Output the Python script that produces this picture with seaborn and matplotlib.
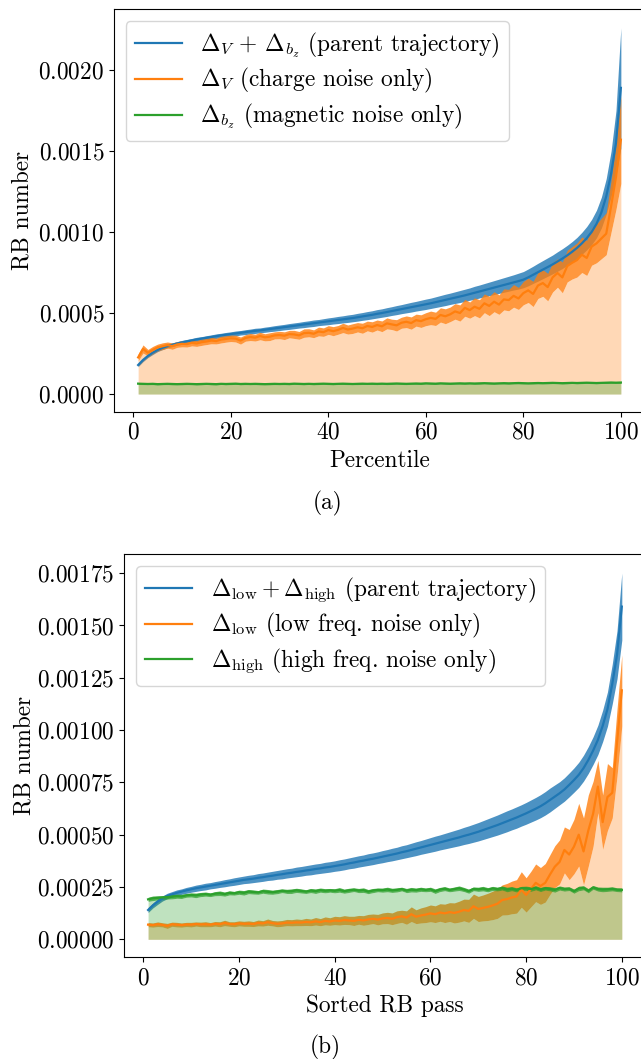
import numpy as np
import matplotlib
matplotlib.use("Agg")
import matplotlib.pyplot as plt
import seaborn as sns

# ---------------- data (values in units of 1e-4) ----------------
SCALE = 1e-4
x_vals = list(range(1, 101))

# Panel (a)
a_parent_mean = [
    1.79, 2.10, 2.35, 2.55, 2.72, 2.85, 2.95, 3.04, 3.12, 3.19,
    3.25, 3.31, 3.37, 3.42, 3.47, 3.52, 3.57, 3.62, 3.66, 3.70,
    3.74, 3.78, 3.82, 3.86, 3.90, 3.93, 3.97, 4.01, 4.05, 4.09,
    4.13, 4.17, 4.21, 4.25, 4.29, 4.33, 4.37, 4.41, 4.45, 4.49,
    4.53, 4.57, 4.61, 4.65, 4.69, 4.74, 4.79, 4.84, 4.89, 4.95,
    5.00, 5.06, 5.12, 5.18, 5.24, 5.30, 5.36, 5.42, 5.48, 5.54,
    5.60, 5.67, 5.74, 5.81, 5.88, 5.95, 6.02, 6.09, 6.17, 6.25,
    6.33, 6.41, 6.49, 6.57, 6.65, 6.73, 6.81, 6.89, 6.97, 7.06,
    7.20, 7.36, 7.52, 7.68, 7.84, 8.00, 8.18, 8.36, 8.56, 8.78,
    9.02, 9.30, 9.62, 10.0, 10.5, 11.2, 12.2, 13.6, 15.5, 18.9]
a_parent_hw = [
    0.10, 0.10, 0.10, 0.11, 0.10, 0.11, 0.10, 0.11, 0.11, 0.12,
    0.12, 0.12, 0.13, 0.12, 0.13, 0.13, 0.14, 0.13, 0.14, 0.14,
    0.15, 0.14, 0.15, 0.15, 0.16, 0.15, 0.16, 0.16, 0.17, 0.17,
    0.17, 0.18, 0.18, 0.18, 0.19, 0.19, 0.20, 0.19, 0.20, 0.21,
    0.21, 0.22, 0.22, 0.23, 0.23, 0.24, 0.24, 0.25, 0.25, 0.26,
    0.26, 0.27, 0.27, 0.28, 0.28, 0.29, 0.30, 0.30, 0.31, 0.32,
    0.32, 0.33, 0.34, 0.35, 0.35, 0.36, 0.37, 0.38, 0.38, 0.40,
    0.40, 0.41, 0.42, 0.43, 0.44, 0.45, 0.46, 0.47, 0.49, 0.50,
    0.52, 0.53, 0.55, 0.56, 0.57, 0.58, 0.60, 0.61, 0.62, 0.63,
    0.65, 0.68, 0.72, 0.78, 0.85, 0.95, 1.10, 1.40, 2.00, 3.70]
a_charge_mean = [
    2.26, 2.78, 2.55, 2.72, 2.88, 2.95, 3.02, 2.96, 3.06, 3.10,
    3.08, 3.16, 3.12, 3.20, 3.24, 3.30, 3.27, 3.36, 3.40, 3.44,
    3.42, 3.30, 3.46, 3.52, 3.48, 3.58, 3.50, 3.54, 3.62, 3.64,
    3.60, 3.70, 3.68, 3.62, 3.76, 3.78, 3.72, 3.86, 3.82, 3.95,
    3.88, 3.96, 4.08, 3.98, 4.04, 4.12, 4.06, 4.20, 4.14, 4.26,
    4.18, 4.36, 4.30, 4.24, 4.40, 4.46, 4.38, 4.56, 4.50, 4.62,
    4.70, 4.64, 4.88, 4.80, 4.92, 5.10, 5.00, 5.32, 5.18, 5.39,
    5.26, 5.60, 5.44, 5.70, 5.52, 5.84, 5.80, 6.06, 5.90, 6.23,
    6.40, 6.18, 6.70, 6.85, 6.60, 7.20, 7.47, 7.20, 7.90, 8.10,
    8.27, 8.60, 8.40, 9.10, 9.30, 9.60, 9.90, 11.6, 13.4, 15.7]
a_charge_hw = [
    0.22, 0.25, 0.20, 0.22, 0.20, 0.21, 0.19, 0.20, 0.18, 0.19,
    0.18, 0.19, 0.18, 0.20, 0.19, 0.20, 0.18, 0.21, 0.20, 0.20,
    0.21, 0.22, 0.20, 0.22, 0.21, 0.23, 0.22, 0.24, 0.22, 0.23,
    0.24, 0.23, 0.25, 0.24, 0.26, 0.25, 0.24, 0.27, 0.26, 0.27,
    0.28, 0.27, 0.29, 0.28, 0.30, 0.29, 0.31, 0.30, 0.32, 0.31,
    0.33, 0.34, 0.32, 0.35, 0.34, 0.36, 0.38, 0.37, 0.39, 0.40,
    0.42, 0.41, 0.44, 0.46, 0.45, 0.48, 0.50, 0.52, 0.50, 0.55,
    0.56, 0.58, 0.60, 0.62, 0.60, 0.65, 0.66, 0.70, 0.68, 0.72,
    0.75, 0.78, 0.80, 0.82, 0.85, 0.90, 0.88, 0.95, 0.98, 1.00,
    1.05, 1.10, 1.08, 1.15, 1.20, 1.25, 1.30, 1.60, 2.00, 2.70]
a_magnetic_mean = [
    0.64, 0.63, 0.62, 0.63, 0.61, 0.62, 0.63, 0.62, 0.61, 0.62,
    0.63, 0.62, 0.61, 0.62, 0.63, 0.62, 0.61, 0.63, 0.62, 0.63,
    0.64, 0.62, 0.63, 0.62, 0.63, 0.62, 0.61, 0.62, 0.63, 0.62,
    0.63, 0.62, 0.64, 0.63, 0.62, 0.63, 0.62, 0.63, 0.64, 0.63,
    0.62, 0.63, 0.64, 0.63, 0.62, 0.63, 0.64, 0.63, 0.64, 0.63,
    0.64, 0.63, 0.64, 0.65, 0.64, 0.63, 0.64, 0.65, 0.64, 0.66,
    0.65, 0.64, 0.66, 0.65, 0.64, 0.65, 0.66, 0.65, 0.66, 0.65,
    0.66, 0.67, 0.66, 0.65, 0.66, 0.67, 0.66, 0.67, 0.68, 0.67,
    0.66, 0.67, 0.68, 0.67, 0.68, 0.69, 0.68, 0.67, 0.68, 0.69,
    0.68, 0.69, 0.70, 0.69, 0.68, 0.69, 0.70, 0.71, 0.70, 0.71]
a_magnetic_hw = [
    0.05, 0.05, 0.04, 0.05, 0.05, 0.04, 0.05, 0.05, 0.04, 0.05,
    0.05, 0.04, 0.05, 0.05, 0.04, 0.05, 0.05, 0.04, 0.05, 0.05,
    0.04, 0.05, 0.05, 0.04, 0.05, 0.05, 0.04, 0.05, 0.05, 0.04,
    0.05, 0.05, 0.04, 0.05, 0.05, 0.04, 0.05, 0.05, 0.04, 0.05,
    0.05, 0.04, 0.05, 0.05, 0.04, 0.05, 0.05, 0.04, 0.05, 0.05,
    0.04, 0.05, 0.05, 0.04, 0.05, 0.05, 0.04, 0.05, 0.05, 0.04,
    0.05, 0.05, 0.04, 0.05, 0.05, 0.04, 0.05, 0.05, 0.04, 0.05,
    0.05, 0.04, 0.05, 0.05, 0.04, 0.05, 0.05, 0.04, 0.05, 0.05,
    0.04, 0.05, 0.05, 0.04, 0.05, 0.05, 0.04, 0.05, 0.05, 0.04,
    0.05, 0.05, 0.04, 0.05, 0.05, 0.04, 0.05, 0.05, 0.04, 0.05]

# Panel (b)
b_parent_mean = [
    1.40, 1.62, 1.80, 1.95, 2.07, 2.15, 2.22, 2.28, 2.34, 2.39,
    2.44, 2.48, 2.52, 2.56, 2.60, 2.64, 2.68, 2.72, 2.76, 2.80,
    2.84, 2.87, 2.90, 2.94, 2.97, 3.01, 3.04, 3.08, 3.11, 3.15,
    3.18, 3.22, 3.25, 3.29, 3.32, 3.36, 3.39, 3.43, 3.46, 3.50,
    3.54, 3.58, 3.63, 3.67, 3.72, 3.76, 3.81, 3.85, 3.90, 3.95,
    4.00, 4.05, 4.10, 4.16, 4.21, 4.27, 4.33, 4.39, 4.45, 4.51,
    4.57, 4.63, 4.69, 4.75, 4.81, 4.87, 4.94, 5.00, 5.07, 5.14,
    5.22, 5.30, 5.38, 5.46, 5.55, 5.64, 5.73, 5.82, 5.92, 6.02,
    6.13, 6.24, 6.36, 6.50, 6.66, 6.82, 6.98, 7.16, 7.38, 7.61,
    7.86, 8.18, 8.57, 9.02, 9.53, 10.2, 11.0, 12.2, 13.6, 15.9]
b_parent_hw = [
    0.12, 0.12, 0.13, 0.12, 0.13, 0.13, 0.14, 0.13, 0.14, 0.14,
    0.15, 0.15, 0.16, 0.15, 0.16, 0.16, 0.17, 0.17, 0.18, 0.18,
    0.18, 0.19, 0.19, 0.20, 0.20, 0.20, 0.21, 0.21, 0.22, 0.22,
    0.22, 0.23, 0.23, 0.23, 0.24, 0.24, 0.24, 0.25, 0.25, 0.25,
    0.26, 0.26, 0.26, 0.27, 0.27, 0.27, 0.28, 0.28, 0.28, 0.29,
    0.29, 0.30, 0.30, 0.31, 0.31, 0.32, 0.33, 0.33, 0.34, 0.35,
    0.36, 0.36, 0.37, 0.38, 0.39, 0.40, 0.41, 0.42, 0.43, 0.44,
    0.45, 0.46, 0.47, 0.48, 0.49, 0.50, 0.50, 0.51, 0.51, 0.52,
    0.53, 0.54, 0.55, 0.56, 0.57, 0.56, 0.55, 0.56, 0.57, 0.58,
    0.60, 0.62, 0.64, 0.66, 0.70, 0.75, 0.82, 0.95, 1.15, 1.60]
b_low_mean = [
    0.70, 0.68, 0.72, 0.69, 0.64, 0.72, 0.70, 0.68, 0.71, 0.70,
    0.73, 0.71, 0.72, 0.70, 0.74, 0.72, 0.78, 0.73, 0.72, 0.76,
    0.74, 0.75, 0.73, 0.78, 0.76, 0.82, 0.77, 0.74, 0.76, 0.80,
    0.79, 0.81, 0.80, 0.83, 0.81, 0.86, 0.82, 0.88, 0.85, 0.90,
    0.88, 0.92, 0.90, 0.88, 0.93, 0.90, 0.95, 0.98, 0.94, 1.00,
    1.02, 0.98, 1.06, 1.10, 1.04, 1.20, 1.08, 1.14, 1.18, 1.24,
    1.20, 1.28, 1.24, 1.30, 1.26, 1.32, 1.40, 1.36, 1.58, 1.45,
    1.50, 1.55, 1.62, 1.70, 1.88, 1.92, 2.00, 2.05, 2.38, 2.12,
    2.40, 2.70, 2.55, 2.70, 3.10, 3.47, 3.70, 4.27, 4.05, 4.43,
    5.00, 4.20, 5.20, 6.00, 7.30, 5.60, 6.80, 7.00, 9.40, 11.9]
b_low_hw = [
    0.10, 0.10, 0.11, 0.10, 0.12, 0.10, 0.11, 0.10, 0.10, 0.11,
    0.10, 0.11, 0.12, 0.10, 0.11, 0.12, 0.13, 0.11, 0.12, 0.12,
    0.12, 0.13, 0.12, 0.14, 0.13, 0.15, 0.13, 0.14, 0.14, 0.15,
    0.15, 0.16, 0.15, 0.17, 0.16, 0.18, 0.17, 0.19, 0.18, 0.20,
    0.20, 0.21, 0.20, 0.22, 0.21, 0.23, 0.24, 0.23, 0.25, 0.26,
    0.27, 0.28, 0.30, 0.29, 0.32, 0.35, 0.33, 0.36, 0.38, 0.40,
    0.40, 0.42, 0.44, 0.45, 0.48, 0.50, 0.52, 0.55, 0.58, 0.60,
    0.62, 0.65, 0.68, 0.70, 0.72, 0.75, 0.78, 0.80, 0.85, 0.82,
    0.85, 0.90, 0.88, 0.92, 0.95, 1.00, 1.05, 1.10, 1.20, 1.30,
    1.50, 1.60, 1.70, 1.55, 1.25, 1.30, 1.60, 1.20, 1.60, 1.70]
b_high_mean = [
    1.91, 1.96, 1.98, 2.00, 2.02, 2.04, 2.06, 2.05, 2.10, 2.12,
    2.10, 2.14, 2.16, 2.13, 2.18, 2.20, 2.16, 2.22, 2.20, 2.25,
    2.22, 2.28, 2.26, 2.24, 2.30, 2.27, 2.25, 2.28, 2.32, 2.29,
    2.30, 2.34, 2.31, 2.28, 2.33, 2.30, 2.35, 2.32, 2.34, 2.32,
    2.36, 2.30, 2.34, 2.37, 2.33, 2.35, 2.28, 2.33, 2.36, 2.35,
    2.38, 2.34, 2.36, 2.40, 2.33, 2.37, 2.35, 2.39, 2.36, 2.39,
    2.30, 2.38, 2.42, 2.36, 2.40, 2.44, 2.38, 2.30, 2.41, 2.39,
    2.42, 2.37, 2.43, 2.40, 2.45, 2.38, 2.42, 2.36, 2.44, 2.44,
    2.40, 2.46, 2.38, 2.44, 2.41, 2.36, 2.45, 2.40, 2.42, 2.30,
    2.43, 2.46, 2.32, 2.48, 2.40, 2.38, 2.39, 2.41, 2.37, 2.36]
b_high_hw = [
    0.10, 0.11, 0.10, 0.09, 0.10, 0.11, 0.10, 0.10, 0.09, 0.10,
    0.11, 0.10, 0.10, 0.09, 0.10, 0.11, 0.10, 0.10, 0.09, 0.10,
    0.11, 0.10, 0.10, 0.09, 0.10, 0.11, 0.10, 0.10, 0.09, 0.10,
    0.11, 0.10, 0.10, 0.09, 0.10, 0.11, 0.10, 0.10, 0.09, 0.10,
    0.11, 0.10, 0.10, 0.09, 0.10, 0.11, 0.10, 0.10, 0.09, 0.10,
    0.11, 0.10, 0.10, 0.09, 0.10, 0.11, 0.10, 0.10, 0.09, 0.10,
    0.11, 0.10, 0.10, 0.09, 0.10, 0.11, 0.10, 0.10, 0.09, 0.10,
    0.11, 0.10, 0.10, 0.09, 0.10, 0.11, 0.10, 0.10, 0.09, 0.10,
    0.11, 0.10, 0.10, 0.09, 0.10, 0.11, 0.10, 0.10, 0.09, 0.10,
    0.11, 0.10, 0.10, 0.09, 0.10, 0.11, 0.10, 0.10, 0.09, 0.10]

labels_a = [r"$\Delta_V \,+\, \Delta_{b_z}$ (parent trajectory)",
            r"$\Delta_V$ (charge noise only)",
            r"$\Delta_{b_z}$ (magnetic noise only)"]
labels_b = [r"$\Delta_{\mathrm{low}} + \Delta_{\mathrm{high}}$ (parent trajectory)",
            r"$\Delta_{\mathrm{low}}$ (low freq. noise only)",
            r"$\Delta_{\mathrm{high}}$ (high freq. noise only)"]
x_ticks = [0, 20, 40, 60, 80, 100]

# ---------------- style ----------------
FS = 16.8
plt.rcParams.update({
    "font.family": "serif",
    "font.serif": ["cmr10"],
    "mathtext.fontset": "cm",
    "axes.formatter.use_mathtext": True,
    "axes.unicode_minus": False,
    "font.size": FS,
})
pal = sns.color_palette("tab10")
c_blue, c_orange, c_green = pal[0], pal[1], pal[2]

W, H = 641, 1059
fig = plt.figure(figsize=(W / 100, H / 100), dpi=100)
ax1 = fig.add_axes([114 / W, (H - 412) / H, (645 - 114) / W, (412 - 9.3) / H])
ax2 = fig.add_axes([124.4 / W, (H - 957.3) / H, (645.5 - 124.4) / W, (957.3 - 554.3) / H])


def draw(ax, mean, hw, color, label, fill_to_zero):
    m = np.array(mean) * SCALE
    h = np.array(hw) * SCALE
    lo, hi = m - h, m + h
    if fill_to_zero:
        ax.fill_between(x_vals, 0, lo, color=color, alpha=0.3, lw=0)
    ax.fill_between(x_vals, lo, hi, color=color, alpha=0.8, lw=0)
    sns.lineplot(x=x_vals, y=m, ax=ax, color=color, lw=1.6, label=label)


draw(ax1, a_parent_mean, a_parent_hw, c_blue, labels_a[0], False)
draw(ax1, a_charge_mean, a_charge_hw, c_orange, labels_a[1], True)
draw(ax1, a_magnetic_mean, a_magnetic_hw, c_green, labels_a[2], True)

draw(ax2, b_parent_mean, b_parent_hw, c_blue, labels_b[0], False)
draw(ax2, b_low_mean, b_low_hw, c_orange, labels_b[1], True)
draw(ax2, b_high_mean, b_high_hw, c_green, labels_b[2], True)

ax1.set_xlim(-3.95, 104.95)
ax1.set_ylim(-0.000111, 0.002375)
ax1.set_yticks([0, 0.0005, 0.0010, 0.0015, 0.0020])
ax2.set_xlim(-3.95, 104.95)
ax2.set_ylim(-0.000086, 0.00184)
ax2.set_yticks([0, 0.00025, 0.0005, 0.00075, 0.001, 0.00125, 0.0015, 0.00175])

for ax, xl in ((ax1, "Percentile"), (ax2, "Sorted RB pass")):
    ax.set_xticks(x_ticks)
    ax.set_xlabel(xl, fontsize=FS)
    ax.set_ylabel("RB number", fontsize=FS)
    ax.tick_params(labelsize=FS)
    ax.legend(loc="upper left", fontsize=FS, labelspacing=0.28)

ax1.yaxis.set_label_coords(-0.151, 0.5)
ax2.yaxis.set_label_coords(-0.171, 0.5)

fig.text(328 / W, 1 - 503 / H, "(a)", ha="center", va="center", fontsize=FS)
fig.text(325 / W, 1 - 1047 / H, "(b)", ha="center", va="center", fontsize=FS)

fig.savefig("out.png", dpi=100)
